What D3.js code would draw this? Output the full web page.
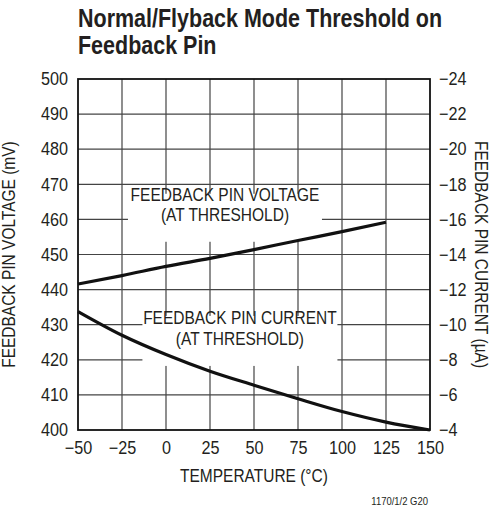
<!DOCTYPE html>
<html>
<head>
<meta charset="utf-8">
<script src="https://cdn.jsdelivr.net/npm/d3@7"></script>
<style>
  html, body { margin: 0; padding: 0; background: #fff; }
  svg { display: block; }
  text { font-family: "Liberation Sans", Arial, sans-serif; fill: #231f20; }
</style>
</head>
<body>
<svg id="chart" width="499" height="510"></svg>
<script>
// ---- data ----
const titleLines = ["Normal/Flyback Mode Threshold on", "Feedback Pin"];
const xTicks = [-50, -25, 0, 25, 50, 75, 100, 125, 150];
const leftTicks = [400, 410, 420, 430, 440, 450, 460, 470, 480, 490, 500];
const rightTicks = [-4, -6, -8, -10, -12, -14, -16, -18, -20, -22, -24];
const voltageTemps = [-50, -25, 0, 25, 50, 75, 100, 125];
const voltageValues = [441.6, 444.0, 446.6, 448.9, 451.4, 454.0, 456.5, 459.2];
const currentTemps = [-50, -25, 0, 25, 50, 75, 100, 125, 150];
const currentValues = [-10.75, -9.4, -8.3, -7.35, -6.55, -5.78, -5.05, -4.45, -4.0];
const xLabel = "TEMPERATURE (°C)";
const leftLabel = "FEEDBACK PIN VOLTAGE (mV)";
const rightLabel = "FEEDBACK PIN CURRENT (µA)";
const voltageNote = ["FEEDBACK PIN VOLTAGE", "(AT THRESHOLD)"];
const currentNote = ["FEEDBACK PIN CURRENT", "(AT THRESHOLD)"];
const footnote = "1170/1/2 G20";

const fmt = v => (v < 0 ? "\u2212" + Math.abs(v) : String(v));

// condensed look: squeeze the real text horizontally
function condense(sel, f) {
  sel.each(function () {
    const w = this.getComputedTextLength();
    this.setAttribute("textLength", (w * f).toFixed(2));
    this.setAttribute("lengthAdjust", "spacingAndGlyphs");
  });
  return sel;
}
const CF = 0.86;

// ---- layout ----
const svg = d3.select("#chart");
const L = 78, R = 430, T = 79, B = 430;

const x = d3.scaleLinear().domain([-50, 150]).range([L, R]);
const yL = d3.scaleLinear().domain([400, 500]).range([B, T]);
const yR = d3.scaleLinear().domain([-4, -24]).range([B, T]);

// title (condensed via transform so its box stays inside the page)
svg.append("g").selectAll("text").data(titleLines).join("text")
  .attr("transform", (d, i) => `translate(${L},${27 + i * 27}) scale(${CF},1)`)
  .style("font-size", "25px").style("font-weight", "bold")
  .text(d => d);

// grid
const grid = svg.append("g");
grid.selectAll("line.v").data(xTicks.slice(1, -1)).join("line")
  .attr("x1", d => x(d)).attr("x2", d => x(d)).attr("y1", T).attr("y2", B)
  .attr("stroke", "#444").attr("stroke-width", 1.2);
grid.selectAll("line.h").data(leftTicks.slice(1, -1)).join("line")
  .attr("x1", L).attr("x2", R).attr("y1", d => yL(d)).attr("y2", d => yL(d))
  .attr("stroke", "#444").attr("stroke-width", 1.2);

// axes (labels only, tick marks hidden)
const axB = svg.append("g").attr("transform", `translate(0,${B})`)
  .call(d3.axisBottom(x).tickValues(xTicks).tickFormat(fmt).tickSize(0).tickPadding(11));
const axL = svg.append("g").attr("transform", `translate(${L},0)`)
  .call(d3.axisLeft(yL).tickValues(leftTicks).tickFormat(fmt).tickSize(0).tickPadding(10));
const axR = svg.append("g").attr("transform", `translate(${R},0)`)
  .call(d3.axisRight(yR).tickValues(rightTicks).tickFormat(fmt).tickSize(0).tickPadding(9));
[axB, axL, axR].forEach(g => {
  g.select(".domain").remove();
  const t = g.selectAll("text").style("font-size", "18px").attr("fill", "#231f20")
    .style("font-family", '"Liberation Sans", Arial, sans-serif');
  condense(t, 0.9);
});

// annotation boxes
function note(lines, cx, yTop, w, h, baseline1, baseline2) {
  const g = svg.append("g");
  g.append("rect").attr("x", cx - w / 2).attr("y", yTop).attr("width", w).attr("height", h).attr("fill", "#fff");
  condense(g.selectAll("text").data(lines).join("text")
    .attr("x", cx).attr("y", (d, i) => i === 0 ? baseline1 : baseline2)
    .attr("text-anchor", "middle").style("font-size", "18px").text(d => d), CF);
}
note(voltageNote, x(33.5), yL(467.3), 194, 48, yL(465.2), yL(459.5));
note(currentNote, x(42), yL(432.5), 195, 50, yL(430.3), yL(424.3));

// frame
svg.append("rect").attr("x", L).attr("y", T).attr("width", R - L).attr("height", B - T)
  .attr("fill", "none").attr("stroke", "#111").attr("stroke-width", 1.8);

// curves
const lineV = d3.line().x((d, i) => x(voltageTemps[i])).y(d => yL(d)).curve(d3.curveMonotoneX);
const lineC = d3.line().x((d, i) => x(currentTemps[i])).y(d => yR(d)).curve(d3.curveMonotoneX);
svg.append("path").attr("d", lineV(voltageValues)).attr("fill", "none").attr("stroke", "#111").attr("stroke-width", 3.2);
svg.append("path").attr("d", lineC(currentValues)).attr("fill", "none").attr("stroke", "#111").attr("stroke-width", 3.2);

// axis titles
condense(svg.append("text").attr("x", (L + R) / 2).attr("y", 482).attr("text-anchor", "middle")
  .style("font-size", "18px").text(xLabel), CF);
condense(svg.append("text").attr("transform", `translate(15,${(T + B) / 2}) rotate(-90)`).attr("text-anchor", "middle")
  .style("font-size", "18px").text(leftLabel), CF);
condense(svg.append("text").attr("transform", `translate(475,${(T + B) / 2}) rotate(90)`).attr("text-anchor", "middle")
  .style("font-size", "18px").text(rightLabel), CF);

// footnote
condense(svg.append("text").attr("x", 428).attr("y", 505).attr("text-anchor", "end")
  .style("font-size", "11px").text(footnote), CF);
</script>
</body>
</html>
